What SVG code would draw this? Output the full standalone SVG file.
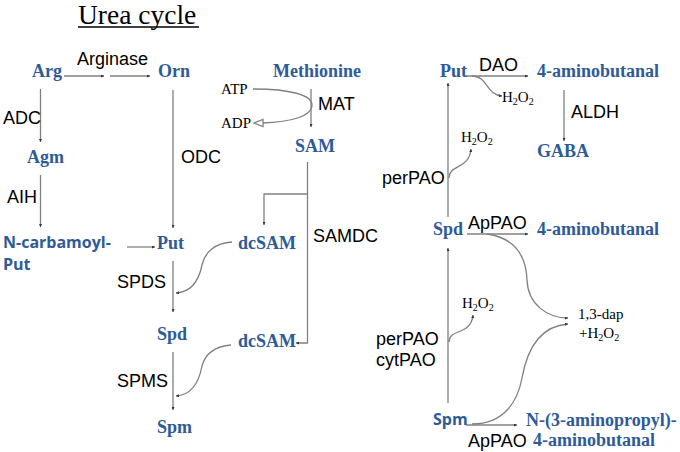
<svg xmlns="http://www.w3.org/2000/svg" width="680" height="452" viewBox="0 0 680 452">
<style>
.n{font-family:"Liberation Serif","Times New Roman",serif;font-weight:bold;font-size:18px;fill:#2E5B98}
.ns{font-family:"Open Sans","Liberation Sans",sans-serif;font-weight:700;font-size:16px;fill:#2E5B98}
.l{font-family:"Liberation Sans",Arial,sans-serif;font-size:18px;fill:#000}
.s{font-family:"Liberation Serif","Times New Roman",serif;font-size:15px;fill:#000}
.sub{font-size:10px}
.c path,.c line,.c polyline{fill:none;stroke:#808080;stroke-width:1.3}
</style>
<defs>
<marker id="a" viewBox="0 0 4 4" refX="4" refY="2" markerWidth="3" markerHeight="3" markerUnits="userSpaceOnUse" orient="auto">
<path d="M0,0 L4,2 L0,4 z" fill="#333"/>
</marker>
</defs>
<rect width="680" height="452" fill="#fff"/>
<g id="title">
<text x="78" y="24" font-family="Liberation Serif,'Times New Roman',serif" font-size="27.5" fill="#000">Urea cycle</text>
<line x1="78" y1="27" x2="199" y2="27" stroke="#000" stroke-width="1.3"/>
</g>
<g class="c" id="connectors">
<line x1="64" y1="76" x2="104" y2="76" marker-end="url(#a)"/>
<line x1="110" y1="76" x2="150" y2="76" marker-end="url(#a)"/>
<line x1="40.5" y1="89" x2="40.5" y2="142" marker-end="url(#a)"/>
<line x1="40.5" y1="175" x2="40.5" y2="227" marker-end="url(#a)"/>
<line x1="173" y1="90" x2="173" y2="228" marker-end="url(#a)"/>
<line x1="311" y1="89" x2="311" y2="127" marker-end="url(#a)"/>
<path d="M253,89 C290,89 312,95 312,105 C312,116 292,122 262,123"/>
<polygon points="254,123 263,119.5 263,126.5" style="fill:#fff;stroke:#808080;stroke-width:1.3"/>
<line x1="127" y1="247" x2="155" y2="247" marker-end="url(#a)"/>
<polyline points="307.5,162 307.5,343 296,343" marker-end="url(#a)"/>
<polyline points="307.5,194 264,194 264,225" marker-end="url(#a)"/>
<line x1="173" y1="261" x2="173" y2="312" marker-end="url(#a)"/>
<line x1="173" y1="352" x2="173" y2="410" marker-end="url(#a)"/>
<path d="M232,242 C215,243 205,252 202,265 C199,280 192,292 176,293" marker-end="url(#a)"/>
<path d="M231,345 C215,346 205,354 202,366 C199,382 192,395 176,396" marker-end="url(#a)"/>
<line x1="466" y1="76" x2="528" y2="76" marker-end="url(#a)"/>
<path d="M472,76 C488,76 486,95 502,96" marker-end="url(#a)"/>
<line x1="564" y1="90" x2="564" y2="141" marker-end="url(#a)"/>
<line x1="448" y1="217" x2="448" y2="83" marker-end="url(#a)"/>
<path d="M449,178 C449,164 469,170 471,149" marker-end="url(#a)"/>
<line x1="467" y1="234" x2="528" y2="234" marker-end="url(#a)"/>
<line x1="448" y1="403" x2="448" y2="248" marker-end="url(#a)"/>
<path d="M449,342 C449,328 471,336 473,315" marker-end="url(#a)"/>
<path d="M487,234 C515,238 526,255 527,280 C528,305 548,318 568,318" marker-end="url(#a)"/>
<path d="M472,424 C505,424 518,400 522,378 C527,350 540,326 568,324" marker-end="url(#a)"/>
<line x1="466" y1="425" x2="517" y2="425" marker-end="url(#a)"/>
</g>
<g id="Arg"><text class="n" x="32" y="77">Arg</text></g>
<g id="Orn"><text class="n" x="158" y="77">Orn</text></g>
<g id="Methionine"><text class="n" x="273" y="77">Methionine</text></g>
<g id="Agm"><text class="n" x="27" y="163">Agm</text></g>
<g id="SAM"><text class="n" x="295" y="152">SAM</text></g>
<g id="Ncarb"><text class="ns" x="3" y="248">N-carbamoyl-</text><text class="ns" x="3" y="270">Put</text></g>
<g id="Put1"><text class="n" x="157" y="249">Put</text></g>
<g id="dcSAM1"><text class="n" x="238" y="249">dcSAM</text></g>
<g id="Spd1"><text class="n" x="157" y="340">Spd</text></g>
<g id="dcSAM2"><text class="n" x="238" y="347">dcSAM</text></g>
<g id="Spm1"><text class="n" x="157" y="433">Spm</text></g>
<g id="Put2"><text class="n" x="440" y="77">Put</text></g>
<g id="amino1"><text class="n" x="537" y="77">4-aminobutanal</text></g>
<g id="GABA"><text class="n" x="537" y="157">GABA</text></g>
<g id="Spd2"><text class="n" x="433" y="235">Spd</text></g>
<g id="amino2"><text class="n" x="537" y="235">4-aminobutanal</text></g>
<g id="dap"><text class="s" x="578" y="319">1,3-dap</text><text class="s" x="579" y="338">+H<tspan class="sub" dy="3">2</tspan><tspan dy="-3">O</tspan><tspan class="sub" dy="3">2</tspan></text></g>
<g id="Spm2"><text class="ns" x="433" y="425">Spm</text></g>
<g id="amino3"><text class="n" x="526" y="426">N-(3-aminopropyl)-</text><text class="n" x="533" y="446">4-aminobutanal</text></g>
<g id="labels">
<text class="l" x="77" y="65">Arginase</text>
<text class="l" x="3" y="124">ADC</text>
<text class="l" x="318" y="110">MAT</text>
<text class="s" x="221" y="94">ATP</text>
<text class="s" x="221" y="128">ADP</text>
<text class="l" x="181" y="163">ODC</text>
<text class="l" x="7" y="203">AIH</text>
<text class="l" x="313" y="242">SAMDC</text>
<text class="l" x="117" y="288">SPDS</text>
<text class="l" x="117" y="387">SPMS</text>
<text class="l" x="479" y="71">DAO</text>
<text class="s" x="502" y="102">H<tspan class="sub" dy="3">2</tspan><tspan dy="-3">O</tspan><tspan class="sub" dy="3">2</tspan></text>
<text class="l" x="571" y="118">ALDH</text>
<text class="s" x="461" y="142">H<tspan class="sub" dy="3">2</tspan><tspan dy="-3">O</tspan><tspan class="sub" dy="3">2</tspan></text>
<text class="l" x="382" y="184">perPAO</text>
<text class="l" x="468" y="229">ApPAO</text>
<text class="s" x="462" y="308">H<tspan class="sub" dy="3">2</tspan><tspan dy="-3">O</tspan><tspan class="sub" dy="3">2</tspan></text>
<text class="l" x="376" y="345">perPAO</text>
<text class="l" x="376" y="366">cytPAO</text>
<text class="l" x="468" y="447">ApPAO</text>
</g>
</svg>
